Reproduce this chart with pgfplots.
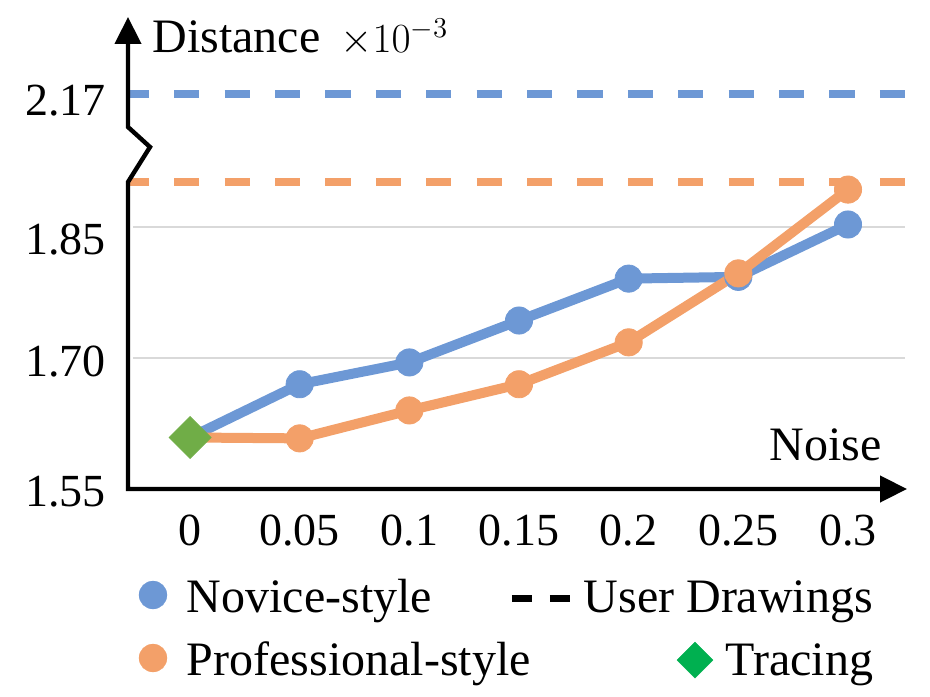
\documentclass[border=0pt]{standalone}
\usepackage{fontspec}
\setmainfont{Liberation Serif}
\usepackage{pgfplots}
\pgfplotsset{compat=1.18}
\usetikzlibrary{arrows.meta}
\definecolor{cblue}{RGB}{109,152,213}
\definecolor{corange}{RGB}{243,160,105}
\definecolor{cgreen}{RGB}{112,173,71}
\definecolor{clgreen}{RGB}{0,176,80}
\definecolor{cgrid}{RGB}{217,217,217}
\begin{document}
\begin{tikzpicture}
\path[use as bounding box] (-64pt,-103.5pt) rectangle (401pt,244.5pt);
\begin{axis}[
  at={(0pt,0pt)}, anchor=south west,
  scale only axis, width=389.5pt, height=236pt,
  xmin=-0.02827, xmax=0.3269, ymin=1.55, ymax=2.0907,
  axis line style={draw=none},
  major tick length=0pt,
  clip=false,
  xtick={0,0.05,0.1,0.15,0.2,0.25,0.3},
  xticklabels={0,0.05,0.1,0.15,0.2,0.25,0.3},
  ytick={1.55,1.70,1.85,2.002},
  yticklabels={1.55,1.70,{\raisebox{-4.5pt}[\height][\depth]{1.85}},{\raisebox{-1.5pt}[\height][\depth]{2.17}}},
  tick label style={font=\fontsize{23}{27}\selectfont, inner sep=0pt},
  xticklabel style={anchor=base, yshift=-28pt},
  yticklabel style={anchor=east, xshift=-11pt, yshift=-1.5pt},
  label style={font=\fontsize{24}{28}\selectfont, inner sep=0pt},
  xlabel={Noise},
  xlabel style={at={(rel axis cs:0.968,0.0614)}, anchor=base east},
  ylabel={Distance\hspace{10pt}{\fontsize{21}{24}\selectfont$\times10^{-3}$}},
  ylabel style={rotate=-90, at={(rel axis cs:0,1)}, anchor=base west, xshift=12pt, yshift=-18pt},
  legend columns=2,
  legend cell align=left,
  legend style={at={(rel axis cs:0.01412,-0.16737)}, anchor=north west, draw=none, fill=none,
    inner sep=0pt, outer sep=0pt, column sep=0pt, row sep=4.5pt,
    font=\fontsize{24}{28}\selectfont, cells={anchor=west},
    nodes={inner sep=0pt, outer sep=0pt, text height=22pt, text depth=5pt}},
]
% grid lines
\draw[cgrid, line width=1pt] (axis cs:-0.026,1.70) -- (axis cs:0.326,1.70);
\draw[cgrid, line width=1pt] (axis cs:-0.026,1.85) -- (axis cs:0.326,1.85);

% user drawings (dashed)
\addplot[cblue, line width=4pt, dash pattern=on 12.6pt off 12.6pt, dash phase=2.1pt, forget plot]
  coordinates {(-0.02827,2.002) (0.3269,2.002)};
\addplot[corange, line width=4pt, dash pattern=on 12.6pt off 12.6pt, dash phase=2.1pt, forget plot]
  coordinates {(-0.02827,1.902) (0.3269,1.902)};

% novice-style
\addplot[cblue, line width=5pt, line join=round, mark=*, mark size=6.8pt,
  mark options={fill=cblue, draw=cblue, line width=0.4pt}, forget plot]
  coordinates {(0,1.609) (0.05,1.670) (0.1,1.695) (0.15,1.743) (0.2,1.791) (0.25,1.793) (0.3,1.853)};
% professional-style
\addplot[corange, line width=5pt, line join=round, mark=*, mark size=6.8pt,
  mark options={fill=corange, draw=corange, line width=0.4pt}, forget plot]
  coordinates {(0,1.609) (0.05,1.608) (0.1,1.640) (0.15,1.670) (0.2,1.718) (0.25,1.797) (0.3,1.893)};
% tracing
\addplot[only marks, mark=square*, mark size=7.4pt,
  mark options={rotate=45, fill=cgreen, draw=cgreen, line width=0.4pt}, forget plot]
  coordinates {(0,1.609)};

% axes with break
\draw[line width=2.2pt, line join=miter,
  {Triangle[length=13.5pt,width=13pt]}-{Triangle[length=13.5pt,width=13pt]}]
  (axis cs:0.3269,1.55) -- (axis cs:-0.02827,1.55) -- (axis cs:-0.02827,1.90166)
  -- (axis cs:-0.01824,1.94175) -- (axis cs:-0.02827,1.96466) -- (axis cs:-0.02827,2.0907);

% legend
\addlegendimage{legend image code/.code={
  \path[draw=none] (0pt,0pt) -- (24pt,0pt);
  \path[draw=none] plot[only marks, mark=*, mark size=7pt, mark options={fill=cblue, draw=cblue, line width=0.1pt}] coordinates {(7pt,0pt)};}}
\addlegendentry{\makebox[172pt][l]{Novice-style}}
\addlegendimage{legend image code/.code={
  \path[draw=none] (0pt,0pt);
  \draw[overlay, black, line width=3.5pt, dash pattern=on 10pt off 9pt] (-9.5pt,-1.5pt) -- (19.5pt,-1.5pt);}}
\addlegendentry{\makebox[171pt][r]{User Drawings}}
\addlegendimage{legend image code/.code={
  \path[draw=none] (0pt,0pt) -- (24pt,0pt);
  \path[draw=none] plot[only marks, mark=*, mark size=7pt, mark options={fill=corange, draw=corange, line width=0.1pt}] coordinates {(7pt,0pt)};}}
\addlegendentry{\makebox[172pt][l]{Professional-style}}
\addlegendimage{legend image code/.code={
  \path[draw=none] (0pt,0pt);
  \begin{scope}[overlay]
  \path[draw=none] plot[only marks, mark=square*, mark size=6.4pt, mark options={rotate=45, fill=clgreen, draw=clgreen, line width=0.1pt}] coordinates {(82pt,-1pt)};
  \end{scope}}}
\addlegendentry{\makebox[171pt][r]{Tracing}}
\end{axis}
\end{tikzpicture}
\end{document}
